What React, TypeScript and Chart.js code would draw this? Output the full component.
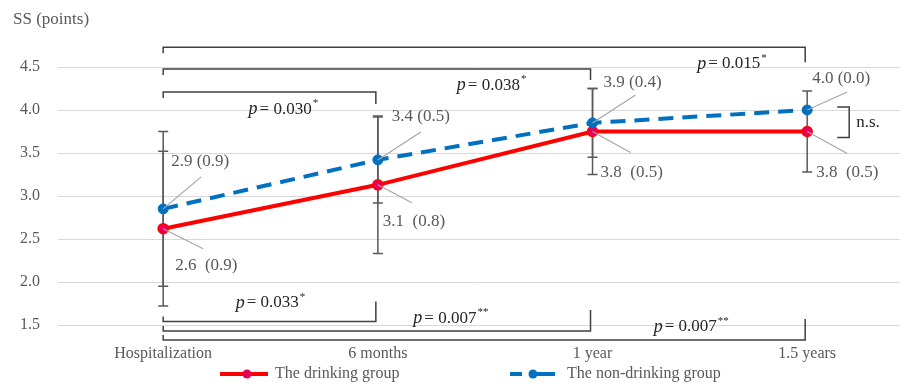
import React, { useEffect, useRef } from "react";
import { Chart, registerables } from "chart.js";

Chart.register(...registerables);

// ---------- data ----------
const categories = ["Hospitalization", "6 months", "1 year", "1.5 years"];
const drinkingMeans = [2.62, 3.13, 3.75, 3.75];
const drinkingSD = [0.9, 0.8, 0.5, 0.47];
const nonDrinkingMeans = [2.85, 3.42, 3.85, 4.0];
const nonDrinkingSD = [0.9, 0.5, 0.4, 0.0];
const drinkingLabels = ["2.6  (0.9)", "3.1  (0.8)", "3.8  (0.5)", "3.8  (0.5)"];
const nonDrinkingLabels = ["2.9 (0.9)", "3.4 (0.5)", "3.9 (0.4)", "4.0 (0.0)"];
const yMin = 1.5;
const yMax = 4.5;
const yStep = 0.5;

// comparisons between Hospitalization and later time points
const topCompareTo = [3, 2, 1];
const topPValues = ["0.015", "0.038", "0.030"];
const topStars = ["*", "*", "*"];
const bottomCompareTo = [1, 2, 3];
const bottomPValues = ["0.033", "0.007", "0.007"];
const bottomStars = ["*", "**", "**"];

const seriesNames = ["The drinking group", "The non-drinking group"];

// ---------- styles ----------
const FONT = "'Liberation Serif', 'Times New Roman', serif";
const RED = "#ff0000";
const RED_POINT = "#e8005a";
const BLUE = "#0070c0";
const GRAY_TEXT = "#595959";
const DARK = "#262626";

// bracket levels (in y units) and label anchors (x in category units, y in value units)
const topLevels = [4.73, 4.477, 4.21];
const topRightTick = [15, 11, 12];
const topLabelPos = [
  [2.65, 4.535],
  [1.53, 4.29],
  [0.56, 4.01],
];
const bottomLevels = [1.54, 1.43, 1.326];
const bottomRightTick = [20, 21, 21];
const bottomLabelPos = [
  [0.5, 1.756],
  [1.34, 1.58],
  [2.46, 1.477],
];
// label offsets (px) from point: [textDx, textDy, leaderDx, leaderDy]
const nonDrinkingLabelOffsets = [
  [8, -47, 38, -32],
  [14, -43, 43, -28],
  [11, -40, 43, -28],
  [5, -31, 40, -18],
];
const drinkingLabelOffsets = [
  [12, 37, 40, 20],
  [5, 37, 34, 18],
  [8, 41, 38, 21],
  [9, 41, 40, 22],
];

function drawP(ctx: CanvasRenderingContext2D, cx: number, cy: number, value: string, stars: string) {
  ctx.save();
  ctx.fillStyle = DARK;
  ctx.textBaseline = "middle";
  ctx.textAlign = "left";
  ctx.font = `italic 18px ${FONT}`;
  const pW = ctx.measureText("p").width;
  ctx.font = `17px ${FONT}`;
  const rest = "= " + value;
  const rW = ctx.measureText(rest).width;
  ctx.font = `11px ${FONT}`;
  const sW = ctx.measureText(stars).width;
  const gap = 2;
  const total = pW + gap + rW + 1 + sW;
  let x = cx - total / 2;
  ctx.font = `italic 18px ${FONT}`;
  ctx.fillText("p", x, cy);
  x += pW + gap;
  ctx.font = `17px ${FONT}`;
  ctx.fillText(rest, x, cy);
  x += rW + 1;
  ctx.font = `11px ${FONT}`;
  ctx.fillText(stars, x, cy - 6);
  ctx.restore();
}

const annotPlugin = {
  id: "annot",
  beforeDatasetsDraw(chart: any) {
    const { ctx } = chart;
    const x = chart.scales.x;
    const y = chart.scales.y;
    ctx.save();
    ctx.strokeStyle = GRAY_TEXT;
    ctx.lineWidth = 1.5;
    const series: [number[], number[]][] = [
      [drinkingMeans, drinkingSD],
      [nonDrinkingMeans, nonDrinkingSD],
    ];
    series.forEach(([m, sd]) =>
      m.forEach((v, i) => {
        if (sd[i] <= 0) return;
        const px = x.getPixelForValue(i);
        const t = y.getPixelForValue(v + sd[i]);
        const b = y.getPixelForValue(v - sd[i]);
        ctx.beginPath();
        ctx.moveTo(px, t);
        ctx.lineTo(px, b);
        ctx.moveTo(px - 5, t);
        ctx.lineTo(px + 5, t);
        ctx.moveTo(px - 5, b);
        ctx.lineTo(px + 5, b);
        ctx.stroke();
      })
    );
    ctx.restore();
  },
  afterDraw(chart: any) {
    const { ctx } = chart;
    const x = chart.scales.x;
    const y = chart.scales.y;
    ctx.save();

    // y title
    ctx.fillStyle = GRAY_TEXT;
    ctx.font = `17px ${FONT}`;
    ctx.textAlign = "left";
    ctx.textBaseline = "middle";
    ctx.fillText("SS (points)", 5, 12);

    // brackets
    ctx.strokeStyle = "#404040";
    ctx.lineWidth = 1.5;
    const x0 = x.getPixelForValue(0);
    topCompareTo.forEach((to, k) => {
      const ly = y.getPixelForValue(topLevels[k]);
      const xr = x.getPixelForValue(to) - 2;
      ctx.beginPath();
      ctx.moveTo(x0, ly + 6);
      ctx.lineTo(x0, ly);
      ctx.lineTo(xr, ly);
      ctx.lineTo(xr, ly + topRightTick[k]);
      ctx.stroke();
      drawP(ctx, x.getPixelForValue(topLabelPos[k][0]), y.getPixelForValue(topLabelPos[k][1]), topPValues[k], topStars[k]);
    });
    bottomCompareTo.forEach((to, k) => {
      const ly = y.getPixelForValue(bottomLevels[k]);
      const xr = x.getPixelForValue(to) - 2;
      ctx.beginPath();
      ctx.moveTo(x0, ly - 5);
      ctx.lineTo(x0, ly);
      ctx.lineTo(xr, ly);
      ctx.lineTo(xr, ly - bottomRightTick[k]);
      ctx.stroke();
      drawP(ctx, x.getPixelForValue(bottomLabelPos[k][0]), y.getPixelForValue(bottomLabelPos[k][1]), bottomPValues[k], bottomStars[k]);
    });

    // value labels with leader lines
    const drawLabels = (means: number[], labels: string[], offs: number[][]) => {
      means.forEach((v, i) => {
        const px = x.getPixelForValue(i);
        const py = y.getPixelForValue(v);
        const [tdx, tdy, ldx, ldy] = offs[i];
        ctx.strokeStyle = "#a6a6a6";
        ctx.lineWidth = 1.2;
        ctx.beginPath();
        ctx.moveTo(px, py);
        ctx.lineTo(px + ldx, py + ldy);
        ctx.stroke();
        ctx.fillStyle = GRAY_TEXT;
        ctx.font = `17px ${FONT}`;
        ctx.textAlign = "left";
        ctx.textBaseline = "middle";
        ctx.fillText(labels[i], px + tdx, py + tdy);
      });
    };
    drawLabels(nonDrinkingMeans, nonDrinkingLabels, nonDrinkingLabelOffsets);
    drawLabels(drinkingMeans, drinkingLabels, drinkingLabelOffsets);

    // n.s. bracket at last time point
    const last = categories.length - 1;
    const lx = x.getPixelForValue(last);
    const yb = y.getPixelForValue(nonDrinkingMeans[last]) - 3;
    const yr = y.getPixelForValue(drinkingMeans[last]) + 6;
    ctx.strokeStyle = "#404040";
    ctx.lineWidth = 1.5;
    ctx.beginPath();
    ctx.moveTo(lx + 30, yb);
    ctx.lineTo(lx + 42, yb);
    ctx.lineTo(lx + 42, yr);
    ctx.lineTo(lx + 30, yr);
    ctx.stroke();
    ctx.fillStyle = DARK;
    ctx.font = `17px ${FONT}`;
    ctx.textAlign = "left";
    ctx.textBaseline = "middle";
    ctx.fillText("n.s.", lx + 49, (yb + yr) / 2);

    // legend
    const ly = 366;
    ctx.lineCap = "butt";
    ctx.strokeStyle = RED;
    ctx.lineWidth = 4;
    ctx.beginPath();
    ctx.moveTo(212, ly);
    ctx.lineTo(260, ly);
    ctx.stroke();
    ctx.fillStyle = RED_POINT;
    ctx.beginPath();
    ctx.arc(239, ly, 4.5, 0, Math.PI * 2);
    ctx.fill();
    ctx.strokeStyle = BLUE;
    ctx.beginPath();
    ctx.moveTo(502, ly);
    ctx.lineTo(514, ly);
    ctx.moveTo(522, ly);
    ctx.lineTo(547, ly);
    ctx.stroke();
    ctx.fillStyle = BLUE;
    ctx.beginPath();
    ctx.arc(525, ly, 4.5, 0, Math.PI * 2);
    ctx.fill();
    ctx.fillStyle = GRAY_TEXT;
    ctx.font = `16px ${FONT}`;
    ctx.textAlign = "left";
    ctx.textBaseline = "middle";
    ctx.fillText(seriesNames[0], 267, ly);
    ctx.fillText(seriesNames[1], 559, ly);

    ctx.restore();
  },
};

export default function App() {
  const ref = useRef<HTMLCanvasElement | null>(null);
  useEffect(() => {
    if (!ref.current) return;
    const chart = new Chart(ref.current, {
      type: "line",
      data: {
        datasets: [
          {
            label: seriesNames[1],
            data: nonDrinkingMeans.map((v, i) => ({ x: i, y: v })),
            borderColor: BLUE,
            backgroundColor: BLUE,
            borderWidth: 4,
            borderDash: [15, 9],
            pointRadius: 5,
            pointBackgroundColor: BLUE,
            pointBorderColor: BLUE,
            pointBorderWidth: 1,
            tension: 0,
          },
          {
            label: seriesNames[0],
            data: drinkingMeans.map((v, i) => ({ x: i, y: v })),
            borderColor: RED,
            backgroundColor: RED_POINT,
            borderWidth: 4,
            pointRadius: 5,
            pointBackgroundColor: RED_POINT,
            pointBorderColor: RED,
            pointBorderWidth: 1.5,
            tension: 0,
          },
        ],
      },
      options: {
        animation: false,
        responsive: true,
        maintainAspectRatio: false,
        layout: { padding: { top: 59, bottom: 0, left: 0, right: 0 } },
        plugins: {
          legend: { display: false },
          tooltip: { enabled: false },
          title: { display: false },
        },
        scales: {
          x: {
            type: "linear",
            min: -0.49,
            max: 3.43,
            afterBuildTicks: (axis: any) => {
              axis.ticks = categories.map((_, i) => ({ value: i }));
            },
            afterFit: (axis: any) => {
              axis.height = 57;
            },
            grid: { display: false, drawTicks: false },
            border: { display: false },
            ticks: {
              autoSkip: false,
              maxRotation: 0,
              padding: 19,
              color: GRAY_TEXT,
              font: { family: FONT, size: 16 },
              callback: (v: any) => categories[Math.round(Number(v))] ?? "",
            },
          },
          y: {
            min: yMin,
            max: yMax,
            afterFit: (axis: any) => {
              axis.width = 50;
            },
            grid: { color: "#d9d9d9", drawTicks: false, lineWidth: 1 },
            border: { display: false },
            ticks: {
              stepSize: yStep,
              padding: 18,
              color: GRAY_TEXT,
              font: { family: FONT, size: 16 },
              callback: (v: any) => Number(v).toFixed(1),
            },
          },
        },
      },
      plugins: [annotPlugin],
    });
    return () => chart.destroy();
  }, []);
  return (
    <div style={{ position: "relative", width: "100%", height: 374 }}>
      <canvas ref={ref} />
    </div>
  );
}
